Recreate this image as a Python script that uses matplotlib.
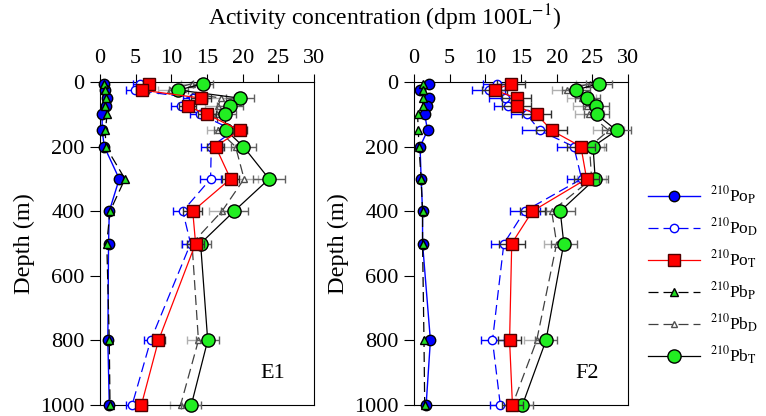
import numpy as np
import matplotlib.pyplot as plt
from matplotlib.lines import Line2D

plt.rcParams['font.family'] = ['Liberation Serif', 'DejaVu Serif']
plt.rcParams['mathtext.fontset'] = 'stix'

depth = [5, 25, 50, 75, 100, 150, 200, 300, 400, 500, 800, 1000]

# station E1
e1_po_p = [0.6, 0.7, 1.0, 0.9, 0.3, 0.3, 0.6, 2.7, 1.3, 1.2, 1.1, 1.3]
e1_pb_p = [0.6, 0.7, 0.8, 0.7, 1.0, 0.75, 0.8, 3.5, 1.4, 0.95, 1.3, 1.4]
e1_po_d = [5.6, 4.9, 13.1, 11.3, 14.0, 18.8, 15.6, 15.5, 11.6, 12.7, 7.1, 4.5]
e1_po_t = [6.8, 5.9, 14.2, 12.3, 15.0, 19.6, 16.2, 18.3, 13.0, 13.4, 8.2, 5.8]
e1_pb_d = [12.9, 9.8, 17.0, 16.5, 16.4, 16.6, 19.0, 20.2, 17.1, 12.9, 13.8, 11.3]
e1_pb_t = [14.5, 11.0, 19.6, 18.2, 17.5, 17.7, 20.1, 23.7, 18.8, 14.1, 15.1, 12.8]
e1_po_d_err = [1.0, 1.2, 1.5, 1.3, 1.4, 1.6, 1.5, 1.5, 1.3, 1.2, 1.0, 0.9]
e1_po_t_err = [0.8, 0.9, 1.4, 1.2, 1.3, 1.0, 1.2, 1.2, 1.3, 1.2, 0.9, 0.8]
e1_pb_d_err = [1.5, 1.6, 1.8, 1.8, 1.7, 1.6, 1.8, 2.0, 1.8, 1.5, 1.6, 1.5]
e1_pb_t_err = [1.4, 1.3, 2.0, 1.8, 1.6, 1.7, 1.8, 2.2, 1.9, 1.5, 1.6, 1.4]

# station F2
f2_po_p = [2.1, 0.8, 2.1, 1.8, 1.5, 1.9, 0.85, 1.0, 1.2, 1.2, 2.3, 1.7]
f2_pb_p = [1.2, 1.3, 1.3, 1.2, 0.5, 0.6, 0.7, 1.0, 1.2, 1.2, 1.4, 1.5]
f2_po_d = [11.7, 10.5, 12.7, 13.2, 15.8, 17.6, 22.4, 23.5, 15.5, 12.6, 11.0, 12.1]
f2_po_t = [13.6, 11.3, 14.4, 14.4, 17.2, 19.3, 23.4, 24.2, 16.6, 13.7, 13.4, 13.8]
f2_pb_d = [24.7, 21.4, 23.5, 24.3, 24.6, 27.3, 24.6, 24.9, 19.3, 20.0, 17.2, 13.8]
f2_pb_t = [25.9, 22.7, 24.3, 25.5, 25.6, 28.4, 25.1, 25.4, 20.5, 21.0, 18.5, 15.2]
f2_po_d_err = [2.0, 2.3, 2.2, 2.0, 2.2, 2.5, 2.3, 2.0, 2.1, 1.8, 1.6, 1.5]
f2_po_t_err = [2.0, 1.8, 2.0, 2.0, 2.0, 2.2, 2.0, 1.8, 1.8, 1.8, 1.6, 1.5]
f2_pb_d_err = [2.0, 2.0, 2.0, 2.0, 2.0, 2.2, 2.0, 2.0, 2.0, 1.8, 1.8, 1.6]
f2_pb_t_err = [1.8, 2.0, 1.8, 1.8, 1.8, 2.0, 1.8, 1.8, 2.0, 1.8, 1.6, 1.5]

labels = [r'$^{210}$Po$_\mathrm{P}$', r'$^{210}$Po$_\mathrm{D}$', r'$^{210}$Po$_\mathrm{T}$',
          r'$^{210}$Pb$_\mathrm{P}$', r'$^{210}$Pb$_\mathrm{D}$', r'$^{210}$Pb$_\mathrm{T}$']

styles = [
    dict(color='blue', ls='-', marker='o', ms=7.5, mfc='blue', mec='black', lw=1.0),
    dict(color='blue', ls=(0, (8, 4)), marker='o', ms=6, mfc='white', mec='blue', lw=0.9),
    dict(color='red', ls='-', marker='s', ms=8, mfc='red', mec='#500000', lw=0.9),
    dict(color='black', ls=(0, (8, 4)), marker='^', ms=5.5, mfc='#22dd22', mec='black', lw=0.9),
    dict(color='#404040', ls=(0, (8, 4)), marker='^', ms=5, mfc='white', mec='#505050', lw=0.9),
    dict(color='black', ls='-', marker='o', ms=9.5, mfc='#22ee22', mec='black', lw=0.9),
]
ecolors = ['black', 'blue', '#303030', 'black', '#b0b0b0', '#606060']
zorders = [6, 3, 5, 7, 2, 4]

fig = plt.figure(figsize=(7.66, 4.16), dpi=100)
ax1 = fig.add_axes([100/766, 11/416, 214/766, 323/416])
ax2 = fig.add_axes([414/766, 11/416, 214/766, 323/416])

panels = [
    (ax1, 'E1', [e1_po_p, e1_po_d, e1_po_t, e1_pb_p, e1_pb_d, e1_pb_t],
     [None, e1_po_d_err, e1_po_t_err, None, e1_pb_d_err, e1_pb_t_err]),
    (ax2, 'F2', [f2_po_p, f2_po_d, f2_po_t, f2_pb_p, f2_pb_d, f2_pb_t],
     [None, f2_po_d_err, f2_po_t_err, None, f2_pb_d_err, f2_pb_t_err]),
]

for ax, name, series, errs in panels:
    for i in range(6):
        st = styles[i]
        eb = ax.errorbar(series[i], depth, xerr=errs[i], ecolor=ecolors[i],
                         elinewidth=1.0, capsize=3, capthick=1.0,
                         zorder=zorders[i], **st)
        for a in eb.get_children():
            a.set_clip_on(False)
    ax.set_xlim(0, 30)
    ax.set_ylim(1000, 0)
    ax.set_xticks([0, 5, 10, 15, 20, 25, 30])
    ax.set_yticks([0, 200, 400, 600, 800, 1000])
    ax.xaxis.set_ticks_position('top')
    ax.tick_params(axis='x', top=True, bottom=False, labeltop=True, labelbottom=False,
                   direction='out', length=6, labelsize=16, pad=4)
    ax.tick_params(axis='y', left=True, right=False, direction='out', length=7,
                   labelsize=16, pad=4)
    ax.set_ylabel('Depth (m)', fontsize=17.5, labelpad=4)
    ax.text(0.864, 0.099, name, transform=ax.transAxes, fontsize=16,
            ha='right', va='center')

fig.text(385/766, 1 - 18/416, r'Activity concentration (dpm 100L$^{-1}$)',
         ha='center', va='center', fontsize=17)

handles = [Line2D([], [], **styles[i]) for i in range(6)]
fig.legend(handles, labels, loc='center left', bbox_to_anchor=(648/766, 1 - 276/416),
           frameon=False, fontsize=12.5, handlelength=3.0, handletextpad=0.6,
           labelspacing=0.55, borderpad=0, borderaxespad=0)

fig.savefig('out.png', dpi=100)
